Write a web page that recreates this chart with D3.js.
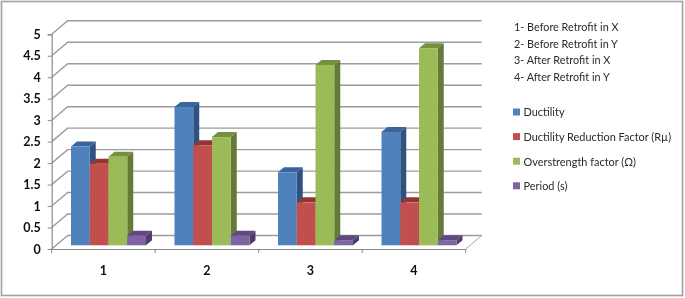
<!DOCTYPE html>
<html>
<head>
<meta charset="utf-8">
<script src="https://cdnjs.cloudflare.com/ajax/libs/d3/7.8.5/d3.min.js"></script>
<style>
html, body { margin: 0; padding: 0; background: #fff; }
svg { display: block; font-family: Lato, "Open Sans", sans-serif; }
</style>
</head>
<body>
<div id="chart"></div>
<script>
// chart values
const categories = ["1", "2", "3", "4"];
const seriesNames = ["Ductility", "Ductility Reduction Factor (R\u00b5)", "Overstrength factor (\u03a9)", "Period (s)"];
const ductility = [2.3, 3.22, 1.7, 2.64];
const reduction = [1.9, 2.33, 1.0, 1.0];
const overstrength = [2.06, 2.52, 4.2, 4.59];
const period = [0.22, 0.22, 0.12, 0.12];
const yTicks = [0, 0.5, 1, 1.5, 2, 2.5, 3, 3.5, 4, 4.5, 5];
const notes = ["1- Before Retrofit in X", "2- Before Retrofit in Y", "3- After Retrofit in X", "4- After Retrofit in Y"];

const series = [ductility, reduction, overstrength, period];
const frontFace = ["#4f81bd", "#c0504d", "#9bbb59", "#8064a2"];
const topFace = ["#3a659a", "#933532", "#75903f", "#5f4880"];
const sideFace = ["#2f5283", "#7c2c2a", "#667a38", "#4f3b6c"];

const w = 685, h = 298;
const svg = d3.select("#chart").append("svg").attr("width", w).attr("height", h);

// slight softening, the picture is a scaled up screenshot
svg.append("defs").append("filter").attr("id", "soft")
    .append("feGaussianBlur").attr("stdDeviation", 0.55);
const g = svg.append("g").attr("filter", "url(#soft)");

// frame
g.append("rect").attr("x", 1.5).attr("y", 1.5).attr("width", 681).attr("height", 294)
    .attr("fill", "#fff").attr("stroke", "#a0a0a0").attr("stroke-width", 1.6);

// scales
const x = d3.scaleBand().domain(categories).range([51.7, 465.7]);
const xBar = d3.scaleBand().domain(d3.range(4)).range([19.3, 94.3]);
const y = d3.scaleLinear().domain([0, 5]).range([249, 34.3]);

// 3d offsets of the box
const wallDx = 16, wallDy = -13.5;
const planeDy = -3.7;
const depthDx = 6, depthDy = -5;

// walls and floor
yTicks.forEach(t => {
    const path = d3.path();
    path.moveTo(x.range()[0], y(t));
    path.lineTo(x.range()[0] + wallDx, y(t) + wallDy);
    path.lineTo(x.range()[1] + wallDx, y(t) + wallDy);
    g.append("path").attr("d", path.toString()).attr("fill", "none")
        .attr("stroke", "#9c9c9c").attr("stroke-width", 1.4);
});
g.append("line")
    .attr("x1", x.range()[1]).attr("y1", y(0))
    .attr("x2", x.range()[1] + wallDx).attr("y2", y(0) + wallDy)
    .attr("stroke", "#a8a8a8").attr("stroke-width", 1);

// axes
const yAxis = d3.axisLeft(y).tickValues(yTicks).tickSize(4).tickPadding(7).tickFormat(d => d);
const yG = g.append("g").attr("transform", "translate(" + x.range()[0] + ",0)").call(yAxis);
const xAxis = d3.axisBottom(x).tickSize(0).tickPadding(17);
const xG = g.append("g").attr("transform", "translate(0," + y(0) + ")").call(xAxis);
xG.selectAll(".edge")
    .data(d3.range(5))
    .enter().append("line").attr("class", "edge")
    .attr("x1", d => x.range()[0] + d * x.step()).attr("x2", d => x.range()[0] + d * x.step())
    .attr("y1", 0).attr("y2", 4)
    .attr("stroke", "#8a8a8a");
[yG, xG].forEach(a => {
    a.selectAll(".domain").attr("stroke", "#8a8a8a").attr("stroke-width", 1.2);
    a.selectAll(".tick line").attr("stroke", "#8a8a8a");
    a.selectAll("text").attr("font-family", "Lato, sans-serif").attr("font-size", 12.5)
        .attr("font-weight", 700).attr("fill", "#111");
});

// bars, left to right so the side faces get covered by the next bar
categories.forEach((c, ci) => {
    series.forEach((vals, si) => {
        const x0 = x(c) + xBar(si);
        const x1 = x0 + xBar.bandwidth();
        const y0 = y(0) + planeDy;
        const y1 = y(vals[ci]) + planeDy;
        const bar = g.append("g");
        bar.append("polygon").attr("fill", sideFace[si])
            .attr("points", [[x1, y1], [x1 + depthDx, y1 + depthDy], [x1 + depthDx, y0 + depthDy], [x1, y0]].join(" "));
        bar.append("polygon").attr("fill", topFace[si])
            .attr("points", [[x0, y1], [x0 + depthDx, y1 + depthDy], [x1 + depthDx, y1 + depthDy], [x1, y1]].join(" "));
        bar.append("rect").attr("x", x0).attr("y", y1).attr("width", x1 - x0).attr("height", y0 - y1)
            .attr("fill", frontFace[si]);
    });
});

// retrofit notes, squeezed a bit since Lato runs wider than the original font
g.selectAll(".note").data(notes).enter().append("text").attr("class", "note")
    .attr("transform", (d, i) => "translate(514," + (31 + i * 16.5) + ") scale(0.88,1)")
    .attr("font-size", 12.3).attr("fill", "#2a2a2a").text(d => d);

// legend
const legend = g.selectAll(".legend").data(seriesNames).enter().append("g").attr("class", "legend")
    .attr("transform", (d, i) => "translate(513," + (112 + i * 24.6) + ")");
legend.append("rect").attr("x", 0).attr("y", -3.5).attr("width", 7).attr("height", 7)
    .attr("fill", (d, i) => frontFace[i]);
legend.append("text").attr("transform", "translate(10.5,4.3) scale(0.89,1)")
    .attr("font-size", 12.3).attr("fill", "#2a2a2a").text(d => d);
</script>
</body>
</html>
